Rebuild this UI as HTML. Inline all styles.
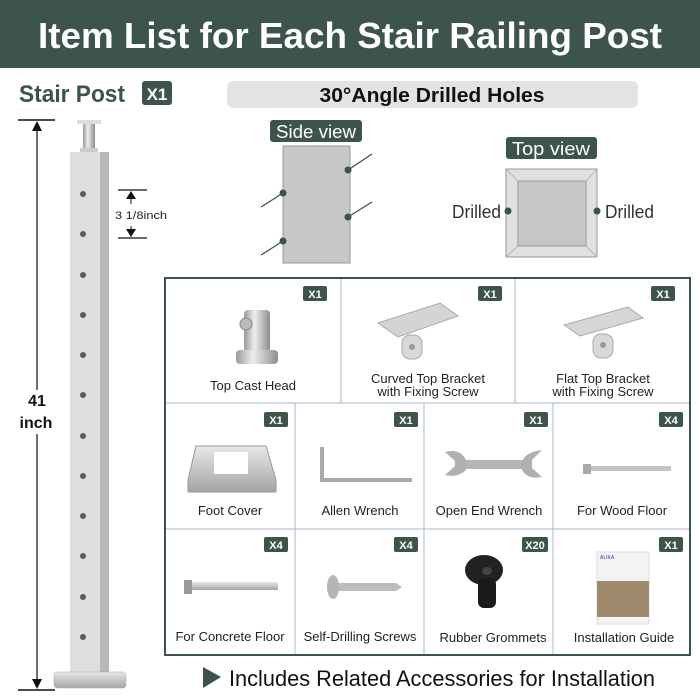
<!DOCTYPE html>
<html><head><meta charset="utf-8"><style>
html,body{margin:0;padding:0;background:#fff;}
svg{display:block;font-family:"Liberation Sans",sans-serif;}
</style></head><body>
<svg width="700" height="700" viewBox="0 0 700 700" xmlns="http://www.w3.org/2000/svg">
<defs>
<linearGradient id="met" x1="0" x2="1"><stop offset="0" stop-color="#9a9a9a"/><stop offset="0.4" stop-color="#eeeeee"/><stop offset="1" stop-color="#8d8d8d"/></linearGradient>
<linearGradient id="metv" x1="0" y1="0" x2="0" y2="1"><stop offset="0" stop-color="#e8e8e8"/><stop offset="1" stop-color="#a5a5a5"/></linearGradient>
</defs>
<rect x="0" y="0" width="700" height="68" fill="#3c5449"/>
<text x="350" y="48" text-anchor="middle" font-size="36" font-weight="bold" fill="#fff" textLength="624" lengthAdjust="spacingAndGlyphs">Item List for Each Stair Railing Post</text>

<text x="19" y="102" font-size="24" font-weight="bold" fill="#3c5449" textLength="106" lengthAdjust="spacingAndGlyphs">Stair Post</text>
<rect x="142" y="81" width="30" height="24" rx="3" fill="#3c5449"/>
<text x="157" y="100" text-anchor="middle" font-size="17" font-weight="bold" fill="#fff">X1</text>

<rect x="227" y="81" width="411" height="27" rx="6" fill="#e3e3e3"/>
<text x="432" y="102" text-anchor="middle" font-size="20" font-weight="bold" fill="#111" textLength="225" lengthAdjust="spacingAndGlyphs">30°Angle Drilled Holes</text>

<rect x="270" y="120" width="92" height="22" rx="3" fill="#3c5449"/>
<text x="316" y="138" text-anchor="middle" font-size="18" fill="#fff" textLength="80" lengthAdjust="spacingAndGlyphs">Side view</text>
<rect x="283" y="146" width="67" height="117" fill="#c8c8c8" stroke="#999" stroke-width="1"/>
<g stroke="#3c5449" stroke-width="1.3">
<line x1="348" y1="170" x2="372" y2="154"/><line x1="348" y1="217" x2="372" y2="202"/>
<line x1="283" y1="193" x2="261" y2="207"/><line x1="283" y1="241" x2="261" y2="255"/>
</g>
<g fill="#3c5449"><circle cx="348" cy="170" r="3.5"/><circle cx="348" cy="217" r="3.5"/><circle cx="283" cy="193" r="3.5"/><circle cx="283" cy="241" r="3.5"/></g>

<rect x="506" y="137" width="91" height="22" rx="3" fill="#3c5449"/>
<text x="551" y="155" text-anchor="middle" font-size="18" fill="#fff" textLength="78" lengthAdjust="spacingAndGlyphs">Top view</text>
<rect x="506" y="169" width="91" height="88" fill="#e0e0e0" stroke="#999"/>
<rect x="518" y="181" width="68" height="65" fill="#c6c6c6" stroke="#999"/>
<g stroke="#aaa" stroke-width="0.8"><line x1="506" y1="169" x2="518" y2="181"/><line x1="597" y1="169" x2="586" y2="181"/><line x1="506" y1="257" x2="518" y2="246"/><line x1="597" y1="257" x2="586" y2="246"/></g>
<circle cx="508" cy="211" r="3.5" fill="#3c5449"/><circle cx="597" cy="211" r="3.5" fill="#3c5449"/>
<text x="501" y="218" text-anchor="end" font-size="18" fill="#333" textLength="49" lengthAdjust="spacingAndGlyphs">Drilled</text>
<text x="605" y="218" font-size="18" fill="#333" textLength="49" lengthAdjust="spacingAndGlyphs">Drilled</text>

<line x1="18" y1="120" x2="55" y2="120" stroke="#111" stroke-width="1.5"/>
<line x1="18" y1="690" x2="55" y2="690" stroke="#111" stroke-width="1.5"/>
<line x1="37" y1="124" x2="37" y2="686" stroke="#111" stroke-width="1.2"/>
<polygon points="37,121 32,131 42,131" fill="#111"/>
<polygon points="37,689 32,679 42,679" fill="#111"/>
<rect x="18" y="390" width="38" height="44" fill="#fff"/>
<text x="37" y="406" text-anchor="middle" font-size="16" font-weight="bold" fill="#111">41</text>
<text x="36" y="428" text-anchor="middle" font-size="16" font-weight="bold" fill="#111">inch</text>

<rect x="77" y="120" width="24" height="4" fill="#ddd"/>
<rect x="83" y="124" width="12" height="28" fill="url(#met)"/>
<rect x="80" y="148" width="18" height="4" fill="#ccc"/>
<rect x="70" y="152" width="30" height="520" fill="#dedede"/>
<rect x="100" y="152" width="9" height="520" fill="#b8b8b8"/>
<rect x="54" y="672" width="72" height="16" rx="3" fill="url(#metv)" stroke="#aaa" stroke-width="0.5"/>
<g fill="#5b5b5b">
<circle cx="83" cy="194" r="3"/><circle cx="83" cy="234" r="3"/><circle cx="83" cy="275" r="3"/><circle cx="83" cy="315" r="3"/><circle cx="83" cy="355" r="3"/><circle cx="83" cy="395" r="3"/><circle cx="83" cy="436" r="3"/><circle cx="83" cy="476" r="3"/><circle cx="83" cy="516" r="3"/><circle cx="83" cy="556" r="3"/><circle cx="83" cy="597" r="3"/><circle cx="83" cy="637" r="3"/>
</g>
<line x1="118" y1="190" x2="147" y2="190" stroke="#111" stroke-width="1.3"/>
<line x1="118" y1="238" x2="147" y2="238" stroke="#111" stroke-width="1.3"/>
<line x1="131" y1="192" x2="131" y2="204" stroke="#111"/><polygon points="131,191 126,199 136,199" fill="#111"/>
<line x1="131" y1="226" x2="131" y2="237" stroke="#111"/><polygon points="131,237 126,229 136,229" fill="#111"/>
<text x="115" y="219" font-size="11" fill="#222" textLength="52" lengthAdjust="spacingAndGlyphs">3 1/8inch</text>

<rect x="165" y="278" width="525" height="377" fill="#fff" stroke="#3c5449" stroke-width="2"/>
<g stroke="#a9b7cc" stroke-width="1">
<line x1="166" y1="403" x2="689" y2="403"/><line x1="166" y1="529" x2="689" y2="529"/>
<line x1="341" y1="279" x2="341" y2="403"/><line x1="515" y1="279" x2="515" y2="403"/>
<line x1="295" y1="403" x2="295" y2="654"/><line x1="424" y1="403" x2="424" y2="654"/><line x1="553" y1="403" x2="553" y2="654"/>
</g>
<g font-size="13" fill="#222" text-anchor="middle">
<text x="253" y="390">Top Cast Head</text>
<text x="428" y="383">Curved Top Bracket</text><text x="428" y="396">with Fixing Screw</text>
<text x="603" y="383">Flat Top Bracket</text><text x="603" y="396">with Fixing Screw</text>
<text x="230" y="515">Foot Cover</text><text x="360" y="515">Allen Wrench</text><text x="489" y="515">Open End Wrench</text><text x="622" y="515">For Wood Floor</text>
<text x="230" y="641">For Concrete Floor</text><text x="360" y="641">Self-Drilling Screws</text><text x="493" y="642">Rubber Grommets</text><text x="624" y="642">Installation Guide</text>
</g>
<g fill="#3c5449">
<rect x="303" y="286" width="24" height="15" rx="2"/><rect x="478" y="286" width="24" height="15" rx="2"/><rect x="651" y="286" width="24" height="15" rx="2"/>
<rect x="264" y="412" width="24" height="15" rx="2"/><rect x="394" y="412" width="24" height="15" rx="2"/><rect x="524" y="412" width="24" height="15" rx="2"/><rect x="659" y="412" width="24" height="15" rx="2"/>
<rect x="264" y="537" width="24" height="15" rx="2"/><rect x="394" y="537" width="24" height="15" rx="2"/><rect x="522" y="537" width="26" height="15" rx="2"/><rect x="659" y="537" width="24" height="15" rx="2"/>
</g>
<g font-size="11" font-weight="bold" fill="#fff" text-anchor="middle">
<text x="315" y="298">X1</text><text x="490" y="298">X1</text><text x="663" y="298">X1</text>
<text x="276" y="424">X1</text><text x="406" y="424">X1</text><text x="536" y="424">X1</text><text x="671" y="424">X4</text>
<text x="276" y="549">X4</text><text x="406" y="549">X4</text><text x="535" y="549">X20</text><text x="671" y="549">X1</text>
</g>

<rect x="244" y="310" width="26" height="42" rx="4" fill="url(#met)"/>
<rect x="236" y="350" width="42" height="14" rx="4" fill="url(#met)"/>
<circle cx="246" cy="324" r="6" fill="#bbb" stroke="#888"/>
<polygon points="378,323 440,303 458,316 398,337" fill="#d4d4d4" stroke="#aaa"/>
<rect x="402" y="335" width="20" height="24" rx="8" fill="#d8d8d8" stroke="#aaa"/>
<circle cx="412" cy="347" r="3" fill="#999"/>
<polygon points="564,325 628,307 643,318 580,336" fill="#d6d6d6" stroke="#aaa"/>
<rect x="593" y="334" width="20" height="24" rx="8" fill="#d8d8d8" stroke="#aaa"/>
<circle cx="603" cy="345" r="3" fill="#999"/>
<path d="M196,446 L266,446 L276,480 L276,492 L188,492 L188,480 Z" fill="url(#metv)" stroke="#999"/>
<rect x="214" y="452" width="34" height="22" fill="#fff"/>
<path d="M322,447 L322,480 L412,480" fill="none" stroke="#aaa" stroke-width="4"/>
<rect x="462" y="460" width="62" height="9" fill="#b5b5b5"/>
<path d="M445,452 Q460,448 466,460 L466,470 Q458,478 445,475 L455,466 L455,461 Z" fill="#b0b0b0"/>
<path d="M542,450 Q525,452 522,462 L522,470 Q528,480 542,477 L532,468 L532,460 Z" fill="#b0b0b0"/>
<rect x="583" y="464" width="8" height="10" fill="#aaa"/>
<rect x="591" y="466" width="80" height="5" fill="#c4c4c4"/>
<rect x="184" y="580" width="8" height="14" fill="#999"/>
<rect x="192" y="582" width="86" height="8" fill="url(#metv)"/>
<ellipse cx="333" cy="587" rx="6" ry="12" fill="#b5b5b5"/>
<rect x="338" y="583" width="58" height="8" fill="#bdbdbd"/>
<polygon points="396,583 402,587 396,591" fill="#bdbdbd"/>
<ellipse cx="484" cy="570" rx="19" ry="15" fill="#222"/>
<rect x="478" y="578" width="18" height="30" rx="6" fill="#1a1a1a"/>
<ellipse cx="487" cy="571" rx="5" ry="4" fill="#444"/>
<rect x="597" y="552" width="52" height="72" fill="#f3f3f3" stroke="#ddd"/>
<rect x="597" y="581" width="52" height="36" fill="#a08a6e"/>
<text x="600" y="559" font-size="5" fill="#2a4a8a">ALIKA</text>

<polygon points="203,667 221,677 203,688" fill="#3c5449"/>
<text x="229" y="686" font-size="22" fill="#111" textLength="426" lengthAdjust="spacingAndGlyphs">Includes Related Accessories for Installation</text>
</svg>
</body></html>
